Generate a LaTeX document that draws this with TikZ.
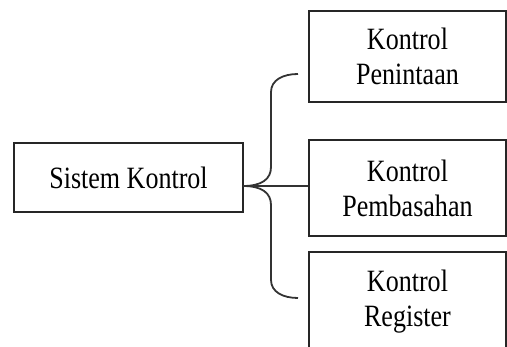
\documentclass[tikz,border=0pt]{standalone}
\usepackage{fontspec}
\setmainfont[FakeStretch=0.84]{Liberation Serif}
\begin{document}
\begin{tikzpicture}[x=1pt,y=-1pt,
  box/.style={draw=black!85,line width=1.8pt,align=center,inner sep=0pt,
    font=\fontsize{31}{35}\selectfont},
  link/.style={draw=black!80,line width=1.8pt}]
\useasboundingbox (0,0) rectangle (507,347);
\node[box,minimum width=229pt,minimum height=69pt] (sys) at (128.5,177.5) {Sistem Kontrol};
\node[box,minimum width=197pt,minimum height=91pt] (b1) at (407.5,56.5) {Kontrol\\Penintaan};
\node[box,minimum width=197pt,minimum height=96pt] (b2) at (407.5,188) {Kontrol\\Pembasahan};
\node[box,minimum width=197pt,minimum height=100pt] (b3) at (407.5,302) {Kontrol\\Register};
\coordinate (tip) at (243,186);
\coordinate (e1) at (298,74);
\coordinate (e3) at (298,298);
\draw[link] (tip) .. controls (262,186) and (271,179) .. (271,167) -- (271,92)
  .. controls (271,80) and (283,74) .. (e1);
\draw[link] (tip) .. controls (262,186) and (271,193) .. (271,205) -- (271,280)
  .. controls (271,292) and (283,298) .. (e3);
\draw[link] (tip) -- (tip -| b2.west);
\end{tikzpicture}
\end{document}
